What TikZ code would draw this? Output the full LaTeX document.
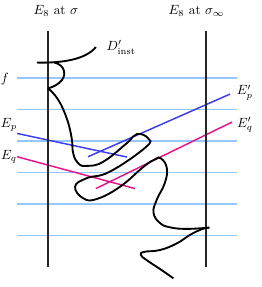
\documentclass[tikz,border=0pt]{standalone}
\usepackage{xcolor}
\usepackage{amsmath}
\usepackage{amssymb}
\usepackage{tikz}

\definecolor{fibreblue}{RGB}{150,200,255}
\definecolor{lineblue}{RGB}{60,60,240}
\definecolor{linepink}{RGB}{230,20,140}

\begin{document}
\begin{tikzpicture}[x=23.625pt, y=23.625pt,
    fibre/.style={fibreblue, line width=1.2pt},
    wall/.style={black!85, line width=1.5pt},
    curve/.style={black, line width=1.4pt, smooth, tension=0.75},
    eline/.style={line width=1.1pt}]
    \useasboundingbox (-1.524,-1.635) rectangle (6.762,7.476);

    % fibres
    \foreach \i in {0,...,5}
        \draw[fibre] (-1,\i) -- (6,\i);

    % exceptional curves
    \coordinate (ep1) at (-0.98,3.24);
    \coordinate (ep2) at (2.51,2.49);
    \coordinate (epp1) at (1.27,2.50);
    \coordinate (epp2) at (5.78,4.49);
    \coordinate (eq1) at (-0.98,2.50);
    \coordinate (eq2) at (2.76,1.49);
    \coordinate (eqq1) at (1.52,1.49);
    \coordinate (eqq2) at (5.84,3.60);
    \draw[eline, lineblue] (ep1) -- (ep2);
    \draw[eline, lineblue] (epp1) -- (epp2);
    \draw[eline, linepink] (eq1) -- (eq2);
    \draw[eline, linepink] (eqq1) -- (eqq2);

    % E8 walls
    \draw[wall] (0,-1) -- (0,6.5);
    \draw[wall] (5,-1) -- (5,6.5);

    % D'_inst
    \draw[curve] (-0.35,5.49) .. controls (0.5,5.47) and (1.2,5.6) .. (1.52,5.98);
    \draw[curve] (0.2,5.49) .. controls (0.55,5.42) and (0.62,5.05) .. (0.36,4.85)
        .. controls (0.22,4.74) and (0.1,4.69) .. (0,4.68);
    \draw[curve] plot coordinates {(0,4.68) (0.33,4.30) (0.6,3.7) (0.75,3.1) (0.80,2.61)
        (0.96,2.29) (1.23,2.21) (1.75,2.34) (2.50,2.93) (2.82,3.22) (3.18,3.08)
        (3.10,2.80) (1.97,2.03) (1.23,1.82) (0.86,1.55) (1.12,1.18) (1.55,1.16)
        (2.29,1.55) (3.03,2.18) (3.40,2.42) (3.58,2.45) (3.77,2.15) (3.71,1.67)
        (3.45,1.13) (3.35,0.72) (3.55,0.40) (3.87,0.26) (4.40,0.21) (5.12,0.25)};
    \draw[curve] plot coordinates {(5.12,0.25) (4.88,0.20) (4.51,0.02) (4.09,-0.25)
        (3.56,-0.46) (3.05,-0.52) (2.95,-0.62) (3.13,-0.78) (3.61,-1.10) (3.98,-1.36)};

    % labels
    \node (sigma) at (0.25,7.13) {$E_8$ at $\sigma$};
    \node (sigmainf) at (4.71,7.13) {$E_8$ at $\sigma_\infty$};
    \node (f) at (-1.37,4.95) {$f$};
    \node (dinst) at (2.32,5.97) {$D'_{\text{inst}}$};
    \node (Ep) at (-1.24,3.5) {$E_p$};
    \node (Eq) at (-1.24,2.49) {$E_q$};
    \node (Epp) at (6.25,4.54) {$E'_p$};
    \node (Eqq) at (6.25,3.52) {$E'_q$};
\end{tikzpicture}
\end{document}
